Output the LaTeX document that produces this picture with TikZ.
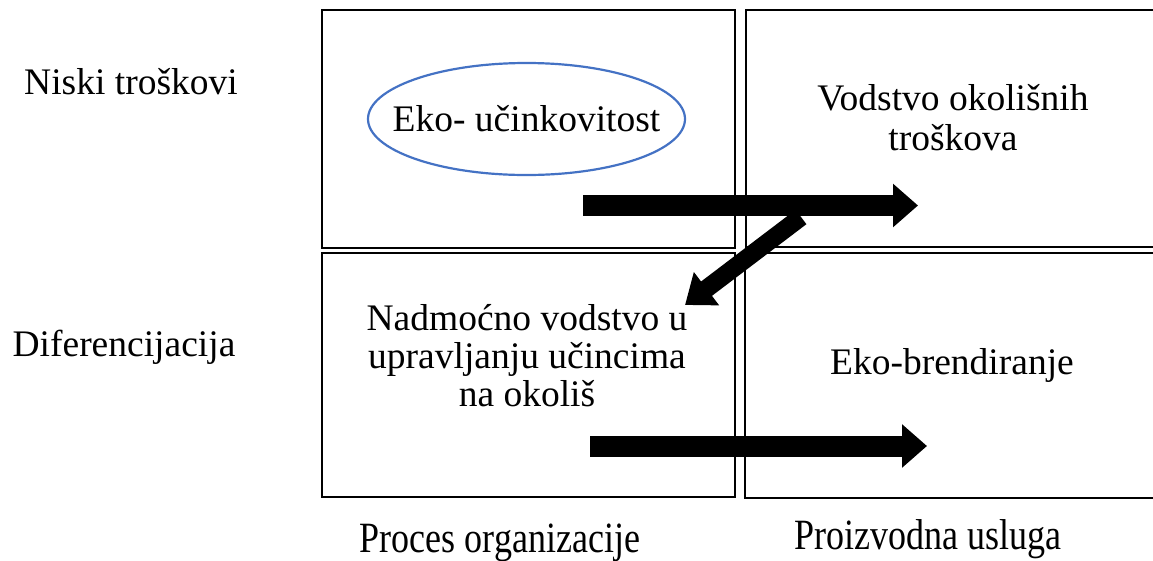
\documentclass[tikz,border=0pt]{standalone}
\usepackage{fontspec}
\setmainfont{Liberation Serif}
\usetikzlibrary{arrows.meta,shapes.geometric}

\definecolor{ellblue}{HTML}{4472C4}

\begin{document}
\begin{tikzpicture}[
    x=1pt, y=-1pt,
    cell/.style={rectangle, draw, line width=2.8pt, inner sep=0pt},
    label/.style={font=\fontsize{37.5}{38}\selectfont, align=center, inner sep=0pt},
    axislabel/.style={font=\fontsize{36}{40}\selectfont, inner sep=0pt},
    oval/.style={ellipse, draw=ellblue, line width=2.2pt, minimum width=317pt, minimum height=112pt, inner sep=0pt},
    bigarrow/.style={line width=21pt, -{Triangle[length=25pt, width=42pt]}},
    diagarrow/.style={line width=18pt, -{Triangle[length=27pt, width=40pt]}}
]
    \useasboundingbox (0,0) rectangle (1153,560);

    % Quadrants
    \node[cell, minimum width=413pt, minimum height=238pt] (tl) at (528.5,129) {};
    \node[cell, minimum width=420pt, minimum height=237pt] (tr) at (956,128.5) {};
    \node[cell, minimum width=413pt, minimum height=244pt] (bl) at (528.5,375) {};
    \node[cell, minimum width=420pt, minimum height=245pt] (br) at (955,375.5) {};

    % Texts
    \node[label] (lowcost) at (131,82) {Niski troškovi};
    \node[label] (diff) at (124,347) {Diferencijacija};
    \node[oval] (ecoeff) at (526.5,119) {};
    \node[label] at (ecoeff) {Eko- učinkovitost};
    \node[label, text depth=0pt] (costlead) at (953,117) {Vodstvo okolišnih\\[2pt]troškova};
    \node[label] (superior) at (527,356) {Nadmoćno vodstvo u\\upravljanju učincima\\na okoliš};
    \node[label] (brand) at (952,365) {Eko-brendiranje};
    \node[axislabel] (process) at (500,543) {\scalebox{1}[1.2]{Proces organizacije}};
    \node[axislabel] (product) at (928,539) {\scalebox{1}[1.2]{Proizvodna usluga}};

    % Arrows
    \coordinate (a1s) at (583,205.5);
    \coordinate (a1e) at (918,205.5);
    \coordinate (a2s) at (801,217);
    \coordinate (a2e) at (685,305);
    \coordinate (a3s) at (590,446);
    \coordinate (a3e) at (927,446);
    \draw[bigarrow] (a1s) -- (a1e);
    \draw[diagarrow] (a2s) -- (a2e);
    \draw[bigarrow] (a3s) -- (a3e);
\end{tikzpicture}
\end{document}
